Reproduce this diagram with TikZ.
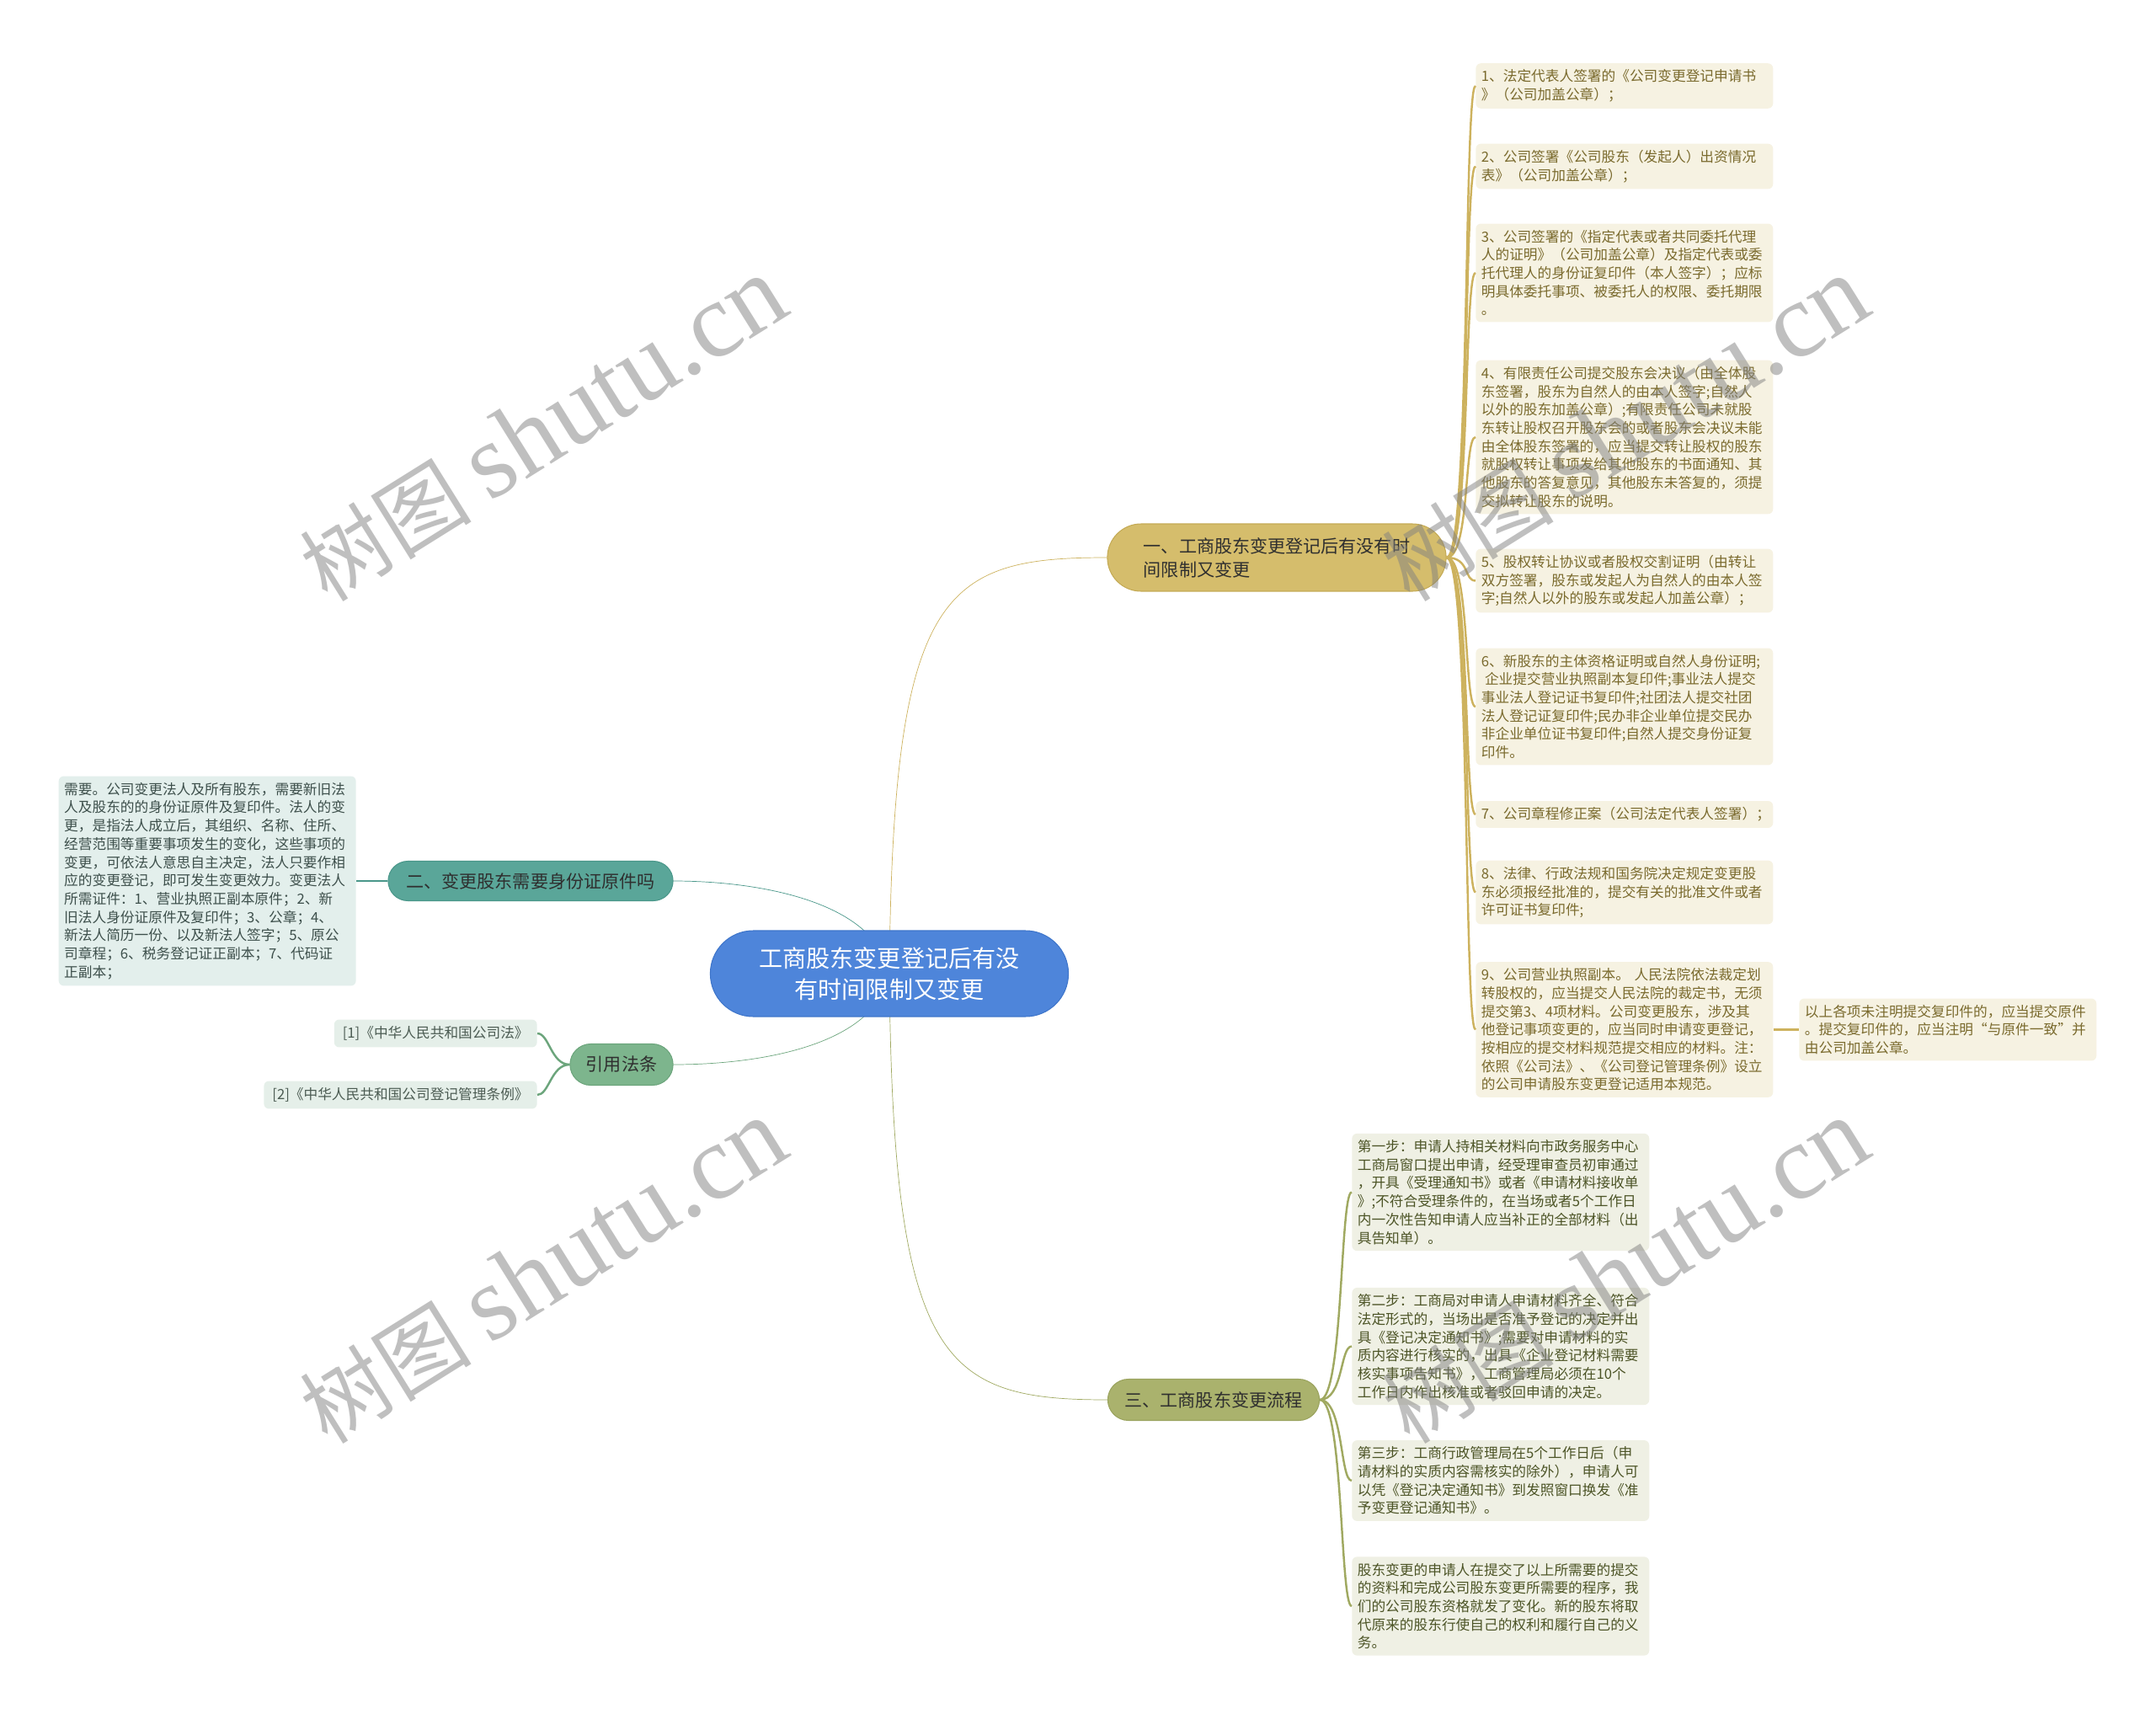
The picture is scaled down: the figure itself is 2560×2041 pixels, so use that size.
\documentclass[tikz,border=0pt]{standalone}
\usepackage{fontspec}
\setmainfont{Noto Sans CJK SC}
\newfontfamily\wmlatin{Liberation Serif}
\usetikzlibrary{shapes.misc,backgrounds}
\definecolor{cblue}{HTML}{4E85DA}\definecolor{cbluedk}{HTML}{3E75CA}
\definecolor{cgold}{HTML}{D5BD6C}\definecolor{cgolddk}{HTML}{C4AA55}\definecolor{cgoldln}{HTML}{CDB25E}
\definecolor{cgoldlf}{HTML}{F6F2E2}\definecolor{cgoldtx}{HTML}{7A6A2D}
\definecolor{cteal}{HTML}{5AA699}\definecolor{ctealdk}{HTML}{4A978A}\definecolor{ctealln}{HTML}{4A978A}
\definecolor{ctealf}{HTML}{E3EFEC}\definecolor{ctealtx}{HTML}{3D4F4B}
\definecolor{cgreen}{HTML}{7DB58D}\definecolor{cgreendk}{HTML}{6CA57C}\definecolor{cgreenln}{HTML}{6CA57C}
\definecolor{cgreenlf}{HTML}{E5EFE9}\definecolor{cgreentx}{HTML}{4B5B52}
\definecolor{colive}{HTML}{AAB26D}\definecolor{colivedk}{HTML}{9AA35E}\definecolor{coliveln}{HTML}{A0A961}
\definecolor{colivelf}{HTML}{EFF0E4}\definecolor{colivetx}{HTML}{4C5426}
\definecolor{cbrtx}{HTML}{2F2F2F}

\begin{document}
\begin{tikzpicture}[x=0.02cm,y=-0.02cm]
\tikzstyle{root}=[rounded rectangle,draw=cbluedk,fill=cblue,text=white,line width=0.6pt,minimum width=8.74cm,minimum height=2.04cm,font=\fontsize{16}{21.3}\selectfont,align=center]
\tikzstyle{br}=[rounded rectangle,line width=0.6pt,text=cbrtx,font=\fontsize{12}{16}\selectfont,align=left]
\tikzstyle{lf}=[rounded corners=0.12cm,text width=6.8cm,inner xsep=0.13cm,inner ysep=0.15cm,align=left,font=\fontsize{9.5}{12.35}\selectfont]
\tikzstyle{ref}=[rounded corners=0.12cm,inner xsep=0.2cm,inner ysep=0.16cm,font=\fontsize{9.5}{12.35}\selectfont,fill=cgreenlf,text=cgreentx]
\tikzstyle{goldlf}=[lf,fill=cgoldlf,text=cgoldtx]
\tikzstyle{olivelf}=[lf,fill=colivelf,text=colivetx]
\tikzstyle{wm}=[text=gray,text opacity=0.5,font=\fontsize{58}{62}\selectfont]
\useasboundingbox (0,0) rectangle (2560,2041);

\node[root] (root) at (1056,1156) {工商股东变更登记后有没\\有时间限制又变更};
\node[br,fill=cgold,draw=cgolddk,minimum width=8.28cm,minimum height=1.6cm] (b1) at (1516,662) {一、工商股东变更登记后有没有时\\间限制又变更};
\node[br,fill=cteal,draw=ctealdk,minimum width=7cm,minimum height=0.94cm] (b2) at (630,1046) {二、变更股东需要身份证原件吗};
\node[br,fill=cgreen,draw=cgreendk,minimum width=2.68cm,minimum height=0.98cm] (bref) at (738,1264) {引用法条};
\node[br,fill=colive,draw=colivedk,minimum width=5.26cm,minimum height=0.98cm] (b3) at (1441,1662) {三、工商股东变更流程};

\node[goldlf,anchor=west] (l1) at (1752,102) {1、法定代表人签署的《公司变更登记申请书\\》（公司加盖公章）；};
\node[goldlf,anchor=west] (l2) at (1752,197.5) {2、公司签署《公司股东（发起人）出资情况\\表》（公司加盖公章）；};
\node[goldlf,anchor=west] (l3) at (1752,324) {3、公司签署的《指定代表或者共同委托代理\\人的证明》（公司加盖公章）及指定代表或委\\托代理人的身份证复印件（本人签字）；应标\\明具体委托事项、被委托人的权限、委托期限\\。};
\node[goldlf,anchor=west] (l4) at (1752,519) {4、有限责任公司提交股东会决议（由全体股\\东签署，股东为自然人的由本人签字;自然人\\以外的股东加盖公章）;有限责任公司未就股\\东转让股权召开股东会的或者股东会决议未能\\由全体股东签署的，应当提交转让股权的股东\\就股权转让事项发给其他股东的书面通知、其\\他股东的答复意见，其他股东未答复的，须提\\交拟转让股东的说明。};
\node[goldlf,anchor=west] (l5) at (1752,689.5) {5、股权转让协议或者股权交割证明（由转让\\双方签署，股东或发起人为自然人的由本人签\\字;自然人以外的股东或发起人加盖公章）；};
\node[goldlf,anchor=west] (l6) at (1752,839) {6、新股东的主体资格证明或自然人身份证明;\\\hspace*{0.25em}企业提交营业执照副本复印件;事业法人提交\\事业法人登记证书复印件;社团法人提交社团\\法人登记证复印件;民办非企业单位提交民办\\非企业单位证书复印件;自然人提交身份证复\\印件。};
\node[goldlf,anchor=west] (l7) at (1752,967) {7、公司章程修正案（公司法定代表人签署）；};
\node[goldlf,anchor=west] (l8) at (1752,1059.5) {8、法律、行政法规和国务院决定规定变更股\\东必须报经批准的，提交有关的批准文件或者\\许可证书复印件;};
\node[goldlf,anchor=west] (l9) at (1752,1222.5) {9、公司营业执照副本。 人民法院依法裁定划\\转股权的，应当提交人民法院的裁定书，无须\\提交第3、4项材料。公司变更股东，涉及其\\他登记事项变更的，应当同时申请变更登记，\\按相应的提交材料规范提交相应的材料。注：\\依照《公司法》、《公司登记管理条例》设立\\的公司申请股东变更登记适用本规范。};
\node[goldlf,anchor=west] (ex) at (2136,1222.5) {以上各项未注明提交复印件的，应当提交原件\\。提交复印件的，应当注明“与原件一致”并\\由公司加盖公章。};

\node[lf,fill=ctealf,text=ctealtx,anchor=east] (ll) at (423,1046) {需要。公司变更法人及所有股东，需要新旧法\\人及股东的的身份证原件及复印件。法人的变\\更，是指法人成立后，其组织、名称、住所、\\经营范围等重要事项发生的变化，这些事项的\\变更，可依法人意思自主决定，法人只要作相\\应的变更登记，即可发生变更效力。变更法人\\所需证件：1、营业执照正副本原件；2、新\\旧法人身份证原件及复印件；3、公章；4、\\新法人简历一份、以及新法人签字；5、原公\\司章程；6、税务登记证正副本；7、代码证\\正副本；};

\node[ref,anchor=east] (r1) at (638,1227) {[1]《中华人民共和国公司法》};
\node[ref,anchor=east] (r2) at (638,1300) {[2]《中华人民共和国公司登记管理条例》};

\node[olivelf,anchor=west] (s1) at (1605,1415.5) {第一步：申请人持相关材料向市政务服务中心\\工商局窗口提出申请，经受理审查员初审通过\\，开具《受理通知书》或者《申请材料接收单\\》;不符合受理条件的，在当场或者5个工作日\\内一次性告知申请人应当补正的全部材料（出\\具告知单）。};
\node[olivelf,anchor=west] (s2) at (1605,1598.5) {第二步：工商局对申请人申请材料齐全、符合\\法定形式的，当场出是否准予登记的决定并出\\具《登记决定通知书》;需要对申请材料的实\\质内容进行核实的，出具《企业登记材料需要\\核实事项告知书》，工商管理局必须在10个\\工作日内作出核准或者驳回申请的决定。};
\node[olivelf,anchor=west] (s3) at (1605,1758) {第三步：工商行政管理局在5个工作日后（申\\请材料的实质内容需核实的除外），申请人可\\以凭《登记决定通知书》到发照窗口换发《准\\予变更登记通知书》。};
\node[olivelf,anchor=west] (s4) at (1605,1907) {股东变更的申请人在提交了以上所需要的提交\\的资料和完成公司股东变更所需要的程序，我\\们的公司股东资格就发了变化。新的股东将取\\代原来的股东行使自己的权利和履行自己的义\\务。};

\begin{scope}[on background layer,line width=1.8pt]
\draw[cgoldln] (root.center) .. controls (1060,700) and (1120,662) .. (b1.west);
\draw[ctealln] (root.center) .. controls (1040,1070) and (900,1046) .. (b2.east);
\draw[cgreenln] (root.center) .. controls (1040,1242) and (900,1264) .. (bref.east);
\draw[coliveln] (root.center) .. controls (1060,1620) and (1120,1662) .. (b3.west);
\end{scope}
\foreach \n in {l1,l2,l3,l4,l5,l6,l7,l8,l9}
 \draw[cgoldln,line width=1.4pt] (b1.east) .. controls +(28,0) and +(-14,0) .. (\n.west);
\draw[cgoldln,line width=1.4pt] (l9.east) -- (ex.west);
\draw[ctealln,line width=1.4pt] (b2.west) -- (ll.east);
\foreach \n in {r1,r2}
 \draw[cgreenln,line width=1.4pt] (bref.west) .. controls +(-22,0) and +(14,0) .. (\n.east);
\foreach \n in {s1,s2,s3,s4}
 \draw[coliveln,line width=1.4pt] (b3.east) .. controls +(28,0) and +(-14,0) .. (\n.west);

\node[wm,rotate=32] (wm1) at (645,510) {树图 {\wmlatin\fontsize{72}{74}\selectfont shutu.cn}};
\node[wm,rotate=32] (wm2) at (645,1510) {树图 {\wmlatin\fontsize{72}{74}\selectfont shutu.cn}};
\node[wm,rotate=32] (wm3) at (1930,510) {树图 {\wmlatin\fontsize{72}{74}\selectfont shutu.cn}};
\node[wm,rotate=32] (wm4) at (1930,1510) {树图 {\wmlatin\fontsize{72}{74}\selectfont shutu.cn}};
\end{tikzpicture}
\end{document}
